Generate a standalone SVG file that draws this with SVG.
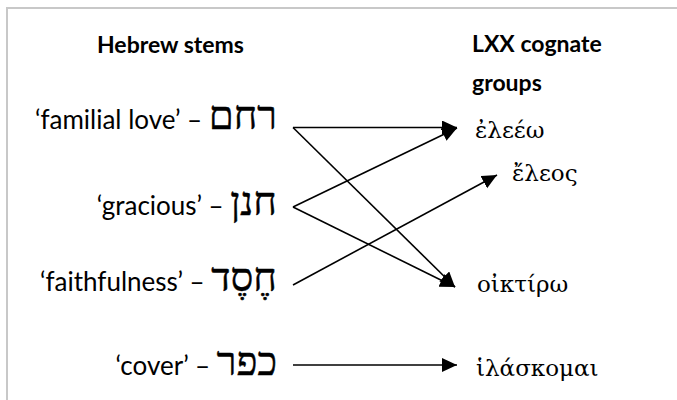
<svg xmlns="http://www.w3.org/2000/svg" width="677" height="400" viewBox="0 0 677 400">
<style>
.head{font-family:Lato,"Liberation Sans",sans-serif;font-weight:bold;font-size:23px;fill:#000}
.lab{font-family:Lato,"Liberation Sans",sans-serif;font-size:26px;fill:#000;text-anchor:end}
.heb{font-family:"Liberation Serif","DejaVu Serif",serif;font-size:40px;stroke:#000;stroke-width:0.5}
.grk{font-family:"DejaVu Serif",serif;font-size:23px;fill:#000}
.conn{stroke:#000;stroke-width:1.6;fill:none;marker-end:url(#ah)}
</style>
<defs>
<marker id="ah" markerUnits="userSpaceOnUse" markerWidth="16" markerHeight="16" refX="15" refY="7" orient="auto">
<path d="M0,0 L15,7 L0,14 z" fill="#000"/>
</marker>
</defs>
<rect x="0" y="0" width="677" height="400" fill="#fff"/>
<path d="M7,400 V8 H677" stroke="#c8c8c8" stroke-width="2" fill="none"/>
<g id="header-left"><text class="head" x="97" y="53">Hebrew stems</text></g>
<g id="header-right"><text class="head" x="472" y="52">LXX cognate</text><text class="head" x="472" y="91">groups</text></g>
<g id="heb-rhm"><text class="lab" x="277" y="129">‘familial love’ – <tspan class="heb">רחם</tspan></text></g>
<g id="heb-hnn"><text class="lab" x="277" y="215">‘gracious’ – <tspan class="heb">חנן</tspan></text></g>
<g id="heb-hsd"><text class="lab" x="277" y="291">‘faithfulness’ – <tspan class="heb">חֶסֶד</tspan></text></g>
<g id="heb-kpr"><text class="lab" x="277" y="375">‘cover’ – <tspan class="heb">כפר</tspan></text></g>
<g id="grk-eleeo"><text class="grk" x="475" y="138">ἐλεέω</text></g>
<g id="grk-eleos"><text class="grk" x="512" y="181">ἔλεος</text></g>
<g id="grk-oiktiro"><text class="grk" x="477" y="292">οἰκτίρω</text></g>
<g id="grk-hilaskomai"><text class="grk" x="476" y="376">ἱλάσκομαι</text></g>
<g id="connectors">
<line class="conn" x1="293" y1="127.5" x2="457" y2="127.5"/>
<line class="conn" x1="293" y1="127.5" x2="455" y2="287"/>
<line class="conn" x1="293" y1="207" x2="457" y2="128"/>
<line class="conn" x1="293" y1="207" x2="455" y2="287"/>
<line class="conn" x1="293" y1="285" x2="497" y2="175"/>
<line class="conn" x1="293" y1="365" x2="457" y2="365"/>
</g>
</svg>
